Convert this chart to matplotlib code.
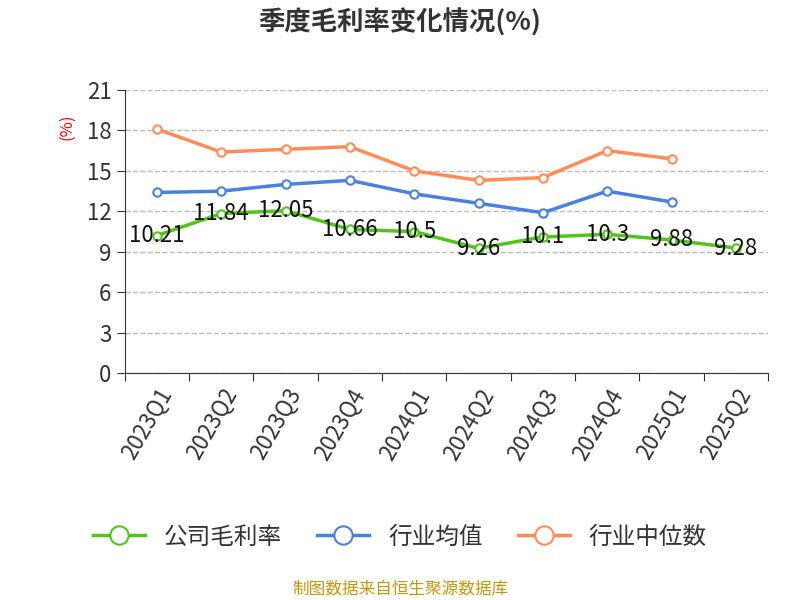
import matplotlib.pyplot as plt
from matplotlib import font_manager
import numpy as np

names = {f.name for f in font_manager.fontManager.ttflist}
cjk = [n for n in ['Noto Sans CJK SC', 'Noto Sans CJK JP', 'Noto Sans CJK TC',
                   'Noto Sans CJK KR', 'Noto Sans SC'] if n in names]
plt.rcParams['font.family'] = cjk + ['DejaVu Sans']
plt.rcParams['axes.unicode_minus'] = False

quarters = ['2023Q1', '2023Q2', '2023Q3', '2023Q4', '2024Q1', '2024Q2',
            '2024Q3', '2024Q4', '2025Q1', '2025Q2']
company = [10.21, 11.84, 12.05, 10.66, 10.5, 9.26, 10.1, 10.3, 9.88, 9.28]
industry_avg = [13.4, 13.5, 14.0, 14.3, 13.3, 12.6, 11.9, 13.5, 12.7]
industry_med = [18.1, 16.4, 16.6, 16.8, 15.0, 14.3, 14.5, 16.5, 15.9]

fig = plt.figure(figsize=(8, 6), dpi=100)
ax = fig.add_axes([0.156, 0.378, 0.804, 0.472])

x = np.arange(len(quarters))
ax.plot(x, company, color='#52c41a', lw=2.5, marker='o', ms=6,
        mfc='white', mew=1.5, label='公司毛利率', zorder=3)
ax.plot(x[:len(industry_avg)], industry_avg, color='#4a80e0', lw=2.5, marker='o', ms=6,
        mfc='white', mew=1.5, label='行业均值', zorder=3)
ax.plot(x[:len(industry_med)], industry_med, color='#ff8c55', lw=2.5, marker='o', ms=6,
        mfc='white', mew=1.5, label='行业中位数', zorder=3)
for xi, v in zip(x, company):
    ax.text(xi, v, f'{v:g}', ha='center', va='center', fontsize=16, color='#111111', zorder=4)

ax.set_xlim(-0.5, len(quarters) - 0.5)
ax.set_ylim(0, 21)
ax.set_yticks(range(0, 22, 3))
ax.set_xticks(np.arange(-0.5, len(quarters)), minor=False)
ax.set_xticklabels([])
ax.set_xticks(x, minor=True)
ax.set_xticklabels(quarters, minor=True, rotation=60, ha='right', rotation_mode='anchor',
                   fontsize=16, color='#333333')
ax.tick_params(axis='x', which='minor', length=0, pad=8)
ax.tick_params(axis='x', which='major', length=6, color='#333333')
ax.tick_params(axis='y', labelsize=16, labelcolor='#333333', length=6, color='#333333')
ax.grid(axis='y', linestyle='--', color='#bbbbbb', lw=1)
for s in ['top', 'right']:
    ax.spines[s].set_visible(False)
ax.spines['left'].set_color('#333333')
ax.spines['bottom'].set_color('#333333')
ax.text(-0.09, 0.87, '(%)', transform=ax.transAxes, rotation=90, color='red',
        fontsize=12, ha='center', va='center')

fig.text(0.5, 0.962, '季度毛利率变化情况(%)', ha='center', va='center', fontsize=19,
         fontweight='bold', color='#333333')
fig.legend(loc='center', bbox_to_anchor=(0.5, 0.105), ncol=3, frameon=False,
           fontsize=17, handlelength=2.2, columnspacing=1.5, labelcolor='#333333',
           markerscale=2.2)
fig.text(0.5, 0.018, '制图数据来自恒生聚源数据库', ha='center', va='center',
         fontsize=12, color='#c8960c')

fig.savefig('out.png')
